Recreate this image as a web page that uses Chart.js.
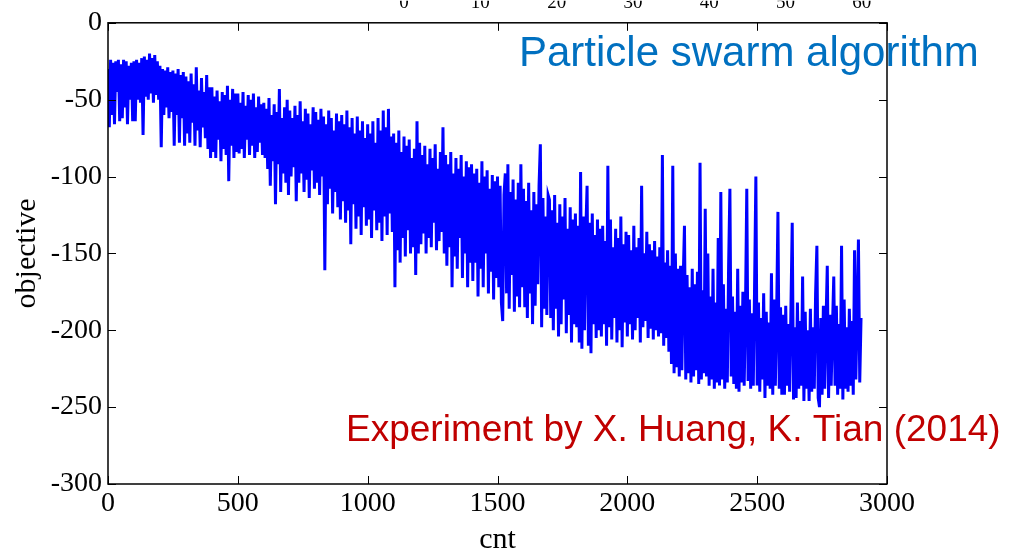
<!DOCTYPE html>
<html>
<head>
<meta charset="utf-8">
<script src="https://cdn.jsdelivr.net/npm/chart.js@4.4.1/dist/chart.umd.min.js"></script>
<style>
  html, body { margin: 0; padding: 0; background: #fff; }
  #wrap { width: 1010px; height: 552px; position: relative; }
</style>
</head>
<body>
<div id="wrap"><canvas id="grafik"></canvas></div>
<script>
// data: objective value, one sample every 5 cnt
const cntStep = 5;
const objective = [
  -30, -68, -24, -60, -26, -66, -25, -45, -24, -64, -27, -62, -24, -55, -25, -66, -28, -50, -26, -64,
  -25, -64, -24, -50, -26, -52, -23, -73, -22, -48, -24, -50, -20, -46, -23, -52, -21, -47, -25, -50,
  -28, -81, -30, -60, -31, -55, -29, -62, -32, -58, -31, -80, -33, -60, -30, -78, -34, -62, -32, -80,
  -35, -72, -38, -78, -33, -65, -40, -80, -29, -70, -44, -81, -36, -68, -45, -75, -34, -82, -42, -88,
  -42, -84, -48, -88, -44, -76, -51, -90, -45, -82, -47, -86, -41, -103, -50, -80, -43, -88, -46, -84,
  -46, -85, -52, -82, -45, -88, -54, -76, -47, -86, -50, -80, -46, -88, -55, -84, -48, -78, -53, -86,
  -52, -88, -56, -95, -49, -106, -60, -90, -53, -118, -58, -92, -43, -110, -62, -98, -55, -104, -50, -112,
  -57, -100, -62, -94, -54, -116, -60, -104, -51, -98, -64, -110, -56, -102, -59, -114, -66, -96, -55, -108,
  -58, -104, -63, -112, -56, -100, -61, -161, -66, -118, -57, -108, -62, -124, -70, -110, -59, -120, -64, -128,
  -60, -116, -66, -130, -57, -122, -68, -144, -62, -118, -72, -134, -61, -126, -70, -138, -64, -120, -75, -132,
  -66, -128, -72, -140, -64, -122, -78, -135, -62, -130, -70, -142, -57, -126, -68, -138, -56, -124, -74, -136,
  -72, -172, -78, -148, -70, -156, -84, -140, -74, -152, -80, -135, -76, -150, -88, -146, -82, -164, -64, -150,
  -78, -144, -86, -137, -80, -150, -92, -140, -82, -146, -88, -130, -79, -148, -95, -142, -84, -136, -68, -150,
  -86, -158, -92, -146, -84, -172, -98, -152, -88, -160, -95, -140, -86, -166, -100, -150, -90, -172, -94, -156,
  -92, -168, -98, -156, -95, -178, -104, -160, -90, -172, -100, -150, -96, -176, -108, -162, -99, -180, -103, -166,
  -100, -172, -106, -182, -194, -112, -98, -176, -92, -186, -110, -164, -102, -188, -115, -178, -104, -185, -92, -172,
  -108, -185, -116, -192, -104, -176, -122, -196, -110, -184, -118, -170, -106, -79, -198, -114, -186, -126, -190, -112,
  -115, -192, -122, -200, -112, -186, -130, -204, -118, -196, -126, -180, -114, -202, -134, -190, -120, -208, -128, -196,
  -124, -198, -132, -208, -97, -212, -126, -200, -136, -106, -210, -130, -215, -124, -196, -138, -205, -128, -200, -134,
  -204, -132, -196, -142, -210, -93, -198, -128, -206, -146, -192, -134, -208, -140, -200, -126, -211, -144, -195, -136,
  -204, -138, -196, -148, -206, -132, -200, -146, -192, -140, -208, -106, -198, -150, -194, -136, -205, -144, -199, -148,
  -206, -142, -200, -152, -204, -146, -202, -86, -210, -156, -205, -148, -214, -158, -222, -93, -228, -150, -224, -160,
  -230, -158, -226, -168, -132, -232, -164, -228, -172, -234, -160, -230, -170, -226, -162, -235, -91, -232, -174, -228,
  -121, -230, -150, -236, -178, -232, -160, -238, -182, -234, -140, -236, -110, -232, -170, -238, -186, -234, -158, -108,
  -230, -178, -235, -188, -238, -160, -240, -184, -234, -175, -236, -186, -108, -233, -180, -238, -189, -236, -172, -100,
  -236, -182, -240, -192, -232, -176, -244, -188, -236, -195, -238, -163, -242, -180, -236, -190, -123, -238, -185, -242,
  -190, -242, -184, -236, -196, -240, -186, -130, -245, -198, -244, -182, -238, -194, -236, -165, -246, -188, -238, -200,
  -246, -186, -240, -198, -238, -176, -145, -244, -250, -192, -242, -184, -238, -196, -158, -244, -190, -236, -198, -165,
  -236, -184, -242, -196, -238, -145, -245, -180, -238, -198, -240, -186, -236, -194, -242, -148, -232, -190, -141, -234,
  -192
];
const xTicks = [0, 500, 1000, 1500, 2000, 2500, 3000];
const yTicks = [-300, -250, -200, -150, -100, -50, 0];
const topTicks = [0, 10, 20, 30, 40, 50, 60];
const notes = ['Particle swarm algorithm', 'Experiment by X. Huang, K. Tian (2014)'];

const serif = '"Liberation Serif", "Times New Roman", serif';
const sans = '"Liberation Sans", Arial, sans-serif';

// kotak sumbu + tick ke dalam + teks keterangan
const frame = {
  id: 'frame',
  afterDatasetsDraw(chart) {
    const { ctx, chartArea: a, scales } = chart;
    ctx.save();
    ctx.textBaseline = 'alphabetic';
    ctx.font = '42px ' + sans;
    ctx.fillStyle = '#0070C0';
    ctx.fillText(notes[0], 519, 66);
    ctx.font = '37px ' + sans;
    ctx.fillStyle = '#C00000';
    ctx.fillText(notes[1], 346, 441);

    ctx.strokeStyle = '#000';
    ctx.lineWidth = 1.5;
    ctx.strokeRect(a.left, a.top, a.right - a.left, a.bottom - a.top);
    ctx.lineWidth = 1;
    ctx.beginPath();
    scales.x.ticks.forEach(t => {
      const px = Math.round(scales.x.getPixelForValue(t.value)) + 0.5;
      ctx.moveTo(px, a.bottom); ctx.lineTo(px, a.bottom - 8);
      ctx.moveTo(px, a.top); ctx.lineTo(px, a.top + 8);
    });
    scales.y.ticks.forEach(t => {
      const py = Math.round(scales.y.getPixelForValue(t.value)) + 0.5;
      ctx.moveTo(a.left, py); ctx.lineTo(a.left + 8, py);
      ctx.moveTo(a.right, py); ctx.lineTo(a.right - 8, py);
    });
    ctx.stroke();
    ctx.restore();
  }
};

const ctx = document.getElementById('grafik').getContext('2d');
new Chart(ctx, {
  type: 'line',
  data: {
    datasets: [{
      data: objective.map((v, i) => ({ x: i * cntStep, y: v })),
      borderColor: '#0000FF',
      borderWidth: 3,
      pointRadius: 0,
      tension: 0,
      fill: false
    }]
  },
  options: {
    responsive: true,
    maintainAspectRatio: false,
    animation: false,
    layout: { padding: { left: 0, right: 123, top: 0, bottom: 0 } },
    plugins: { legend: { display: false }, tooltip: { enabled: false } },
    scales: {
      x: {
        type: 'linear', position: 'bottom', min: 0, max: 3000,
        afterBuildTicks: s => { s.ticks = xTicks.map(v => ({ value: v })); },
        afterFit: s => { s.height = 68; },
        grid: { display: false, drawTicks: false },
        border: { display: false },
        ticks: { color: '#000', font: { family: serif, size: 28 }, padding: 3, maxRotation: 0,
                 callback: v => String(v) },
        title: { display: true, text: 'cnt', color: '#000', font: { family: serif, size: 30, lineHeight: 0.8 }, padding: 0 }
      },
      x2: {
        type: 'linear', position: 'top', min: -38.8, max: 63.3,
        afterBuildTicks: s => { s.ticks = topTicks.map(v => ({ value: v })); },
        afterFit: s => { s.height = 22; },
        grid: { display: false, drawTicks: false },
        border: { display: false },
        ticks: { color: '#000', font: { family: serif, size: 19 }, padding: 8, maxRotation: 0,
                 callback: v => String(v) }
      },
      y: {
        type: 'linear', min: -300, max: 0,
        afterBuildTicks: s => { s.ticks = yTicks.map(v => ({ value: v })); },
        afterFit: s => { s.width = 108; },
        grid: { display: false, drawTicks: false },
        border: { display: false },
        ticks: { color: '#000', font: { family: serif, size: 28 }, padding: 6,
                 callback: v => String(v) },
        title: { display: true, text: 'objective', color: '#000', font: { family: serif, size: 30, lineHeight: 1 }, padding: { top: 12, bottom: 0 } }
      }
    }
  },
  plugins: [frame]
});
</script>
</body>
</html>
